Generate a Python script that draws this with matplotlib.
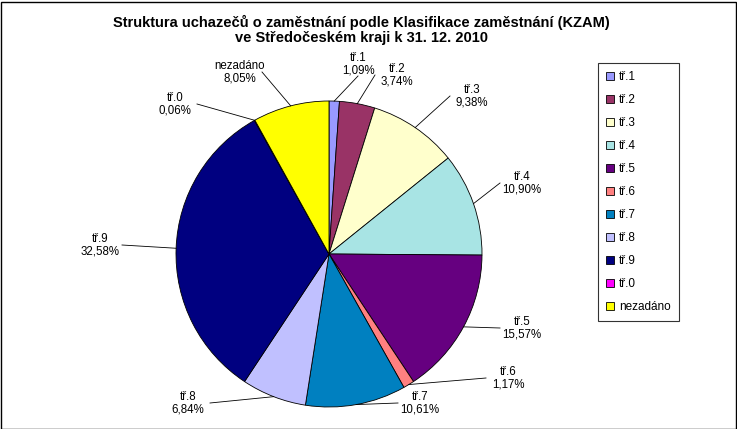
import matplotlib
matplotlib.use("Agg")
import matplotlib.pyplot as plt
from matplotlib.patches import Rectangle
import numpy as np

categories = ["tř.1", "tř.2", "tř.3", "tř.4", "tř.5", "tř.6", "tř.7", "tř.8", "tř.9", "tř.0", "nezadáno"]
values = [1.09, 3.74, 9.38, 10.90, 15.57, 1.17, 10.61, 6.84, 32.58, 0.06, 8.05]
colors = ["#9999FF", "#993366", "#FFFFCC", "#A8E4E4", "#660080", "#FF8080",
          "#0080C0", "#C0C0FF", "#000080", "#FF00FF", "#FFFF00"]
# label text positions (pixels from top-left)
label_pos = [(358, 64), (397, 75), (472, 96), (522, 183), (522, 328), (508, 378),
             (420, 403), (188, 403), (100, 245), (175, 104), (240, 72)]

plt.rcParams['font.family'] = ['Liberation Sans', 'DejaVu Sans']
W, H = 737, 429
fig = plt.figure(figsize=(W/100, H/100), dpi=100)
ax = fig.add_axes([0, 0, 1, 1])

cx, cy, r = 329, H - 254, 153
wedges, _ = ax.pie(values, colors=colors, startangle=90, counterclock=False,
                   center=(cx, cy), radius=r, frame=True,
                   wedgeprops=dict(edgecolor='black', linewidth=0.6))
ax.set_xlim(0, W); ax.set_ylim(0, H); ax.axis('off')
ax.set_aspect('equal')

for w, cat, v, (lx, ly) in zip(wedges, categories, values, label_pos):
    ang = np.deg2rad((w.theta1 + w.theta2) / 2)
    ex, ey = cx + r*np.cos(ang), cy + r*np.sin(ang)
    ty = H - ly
    ax.text(lx, ty, f"{cat}\n" + f"{v:.2f}".replace('.', ',') + "%",
            ha='center', va='center', fontsize=8.3, linespacing=1.05)
    dx = lx - ex
    if abs(dx) > 25:
        tx = lx - np.sign(dx)*22
        tyl = ty
    else:
        tx = lx
        tyl = ty - np.sign(ty - ey)*12
    ax.plot([ex, tx], [ey, tyl], color='black', lw=0.6)

fig.text(0.49, 1 - 30/H, "Struktura uchazečů o zaměstnání podle Klasifikace zaměstnání (KZAM)\nve Středočeském kraji k 31. 12. 2010",
         ha='center', va='center', fontsize=10.5, fontweight='bold', linespacing=1.15)

leg = fig.legend(wedges, categories, loc='upper left', bbox_to_anchor=(592/W, 1 - 57/H),
                 fontsize=8.5, frameon=True, fancybox=False, edgecolor='black',
                 labelspacing=0.93, handlelength=0.7, handleheight=0.7, handletextpad=0.4,
                 borderpad=0.7)
leg.get_frame().set_linewidth(0.8)
fig.patches.append(Rectangle((0.5/W, 0.5/H), 1 - 2/W, 1 - 2/H, transform=fig.transFigure,
                             fill=False, edgecolor='black', lw=1))
fig.savefig("out.png", dpi=100)
